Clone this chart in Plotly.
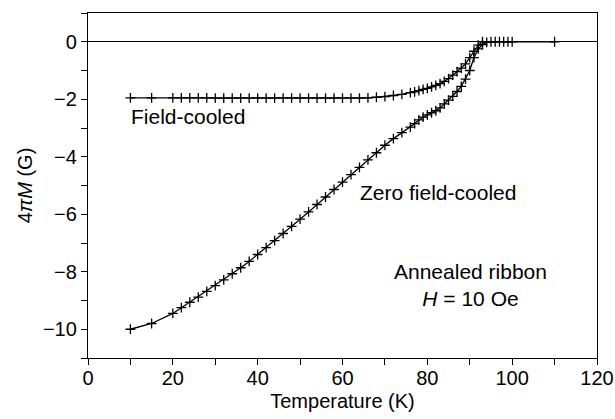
import plotly.graph_objects as go

# Zero field-cooled data
zfc_T = [10, 15, 20, 22, 24, 26, 28, 30, 32, 34, 36, 38, 40, 42, 44, 46, 48, 50,
         52, 54, 56, 58, 60, 62, 64, 66, 68, 70, 72, 74, 76, 77, 78, 79, 80, 81,
         82, 83, 84, 85, 86, 87, 88, 89, 90, 91, 92, 93, 94, 95, 96, 97, 98, 99,
         100, 110]
zfc_M = [-10.0, -9.8, -9.45, -9.25, -9.06, -8.88, -8.68, -8.48, -8.28, -8.07,
         -7.86, -7.64, -7.40, -7.16, -6.92, -6.67, -6.42, -6.17, -5.92, -5.66,
         -5.40, -5.14, -4.88, -4.62, -4.37, -4.11, -3.86, -3.60, -3.37, -3.16,
         -2.97, -2.85, -2.72, -2.62, -2.54, -2.47, -2.40, -2.30, -2.16, -2.03,
         -1.90, -1.73, -1.55, -1.30, -1.00, -0.55, -0.25, -0.10, -0.02, 0.0,
         0.0, 0.0, 0.0, 0.0, 0.0, 0.0]

# Field-cooled data
fc_T = [10, 15, 20, 22, 24, 26, 28, 30, 32, 34, 36, 38, 40, 42, 44, 46, 48, 50,
        52, 54, 56, 58, 60, 62, 64, 66, 68, 70, 72, 74, 76, 77, 78, 79, 80, 81,
        82, 83, 84, 85, 86, 87, 88, 89, 90, 91, 92, 93]
fc_M = [-1.95, -1.95, -1.95, -1.95, -1.95, -1.95, -1.95, -1.96, -1.96, -1.96,
        -1.96, -1.96, -1.96, -1.96, -1.96, -1.96, -1.96, -1.96, -1.96, -1.96,
        -1.96, -1.96, -1.96, -1.96, -1.96, -1.95, -1.93, -1.91, -1.87, -1.83,
        -1.77, -1.74, -1.70, -1.66, -1.62, -1.57, -1.52, -1.46, -1.38, -1.28,
        -1.16, -1.04, -0.92, -0.77, -0.55, -0.33, -0.12, 0.0]

x_ticks = [0, 20, 40, 60, 80, 100, 120]
y_ticks = [0, -2, -4, -6, -8, -10]
y_ticklabels = ["0", "\u22122", "\u22124", "\u22126", "\u22128", "\u221210"]

FONT = "Arial, Liberation Sans, Helvetica, sans-serif"

fig = go.Figure()
for T, M in [(fc_T, fc_M), (zfc_T, zfc_M)]:
    fig.add_trace(go.Scatter(
        x=T, y=M, mode="lines+markers",
        line=dict(color="black", width=1.3),
        marker=dict(symbol="cross-thin", size=7, line=dict(color="black", width=1.3)),
        showlegend=False,
    ))

fig.add_annotation(x=9.6, y=-2.6, text="Field-cooled", showarrow=False,
                   xanchor="left", yanchor="middle", font=dict(size=21))
fig.add_annotation(x=63.6, y=-5.25, text="Zero field-cooled", showarrow=False,
                   xanchor="left", yanchor="middle", font=dict(size=21))
fig.add_annotation(x=90.2, y=-8.45, text="Annealed ribbon<br><i>H</i> = 10 Oe",
                   showarrow=False, xanchor="center", yanchor="middle", align="center",
                   font=dict(size=21))

axis_common = dict(
    showline=True, linecolor="black", linewidth=1.3, mirror=True,
    ticks="outside", ticklen=6, tickwidth=1.3, tickcolor="black",
    showgrid=False, automargin=False,
    tickfont=dict(family=FONT, size=20, color="black"),
)

fig.update_xaxes(
    range=[0, 120], tickvals=x_ticks, zeroline=False, ticklabelstandoff=-4,
    minor=dict(ticks="outside", ticklen=6, tickwidth=1.3, tickcolor="black", dtick=10),
    title=dict(text="Temperature (K)", font=dict(family=FONT, size=20, color="black"), standoff=5),
    **axis_common,
)
fig.update_yaxes(
    range=[-11, 1], tickvals=y_ticks, ticktext=y_ticklabels,
    zeroline=True, zerolinecolor="black", zerolinewidth=1.3,
    minor=dict(ticks="outside", ticklen=6, tickwidth=1.3, tickcolor="black", dtick=1),
    title=dict(text="4<i>\u03c0M</i> (G)", font=dict(family=FONT, size=20, color="black"), standoff=4),
    **axis_common,
)

fig.update_layout(
    width=615, height=419,
    margin=dict(l=88, r=18, t=13, b=61),
    paper_bgcolor="white", plot_bgcolor="white",
    font=dict(family=FONT, size=20, color="black"),
)

# remove the browser's default body margin so the figure fills the window exactly
fig.write_html("out.html", config={"displayModeBar": False},
               post_script="document.body.style.margin='0';")
